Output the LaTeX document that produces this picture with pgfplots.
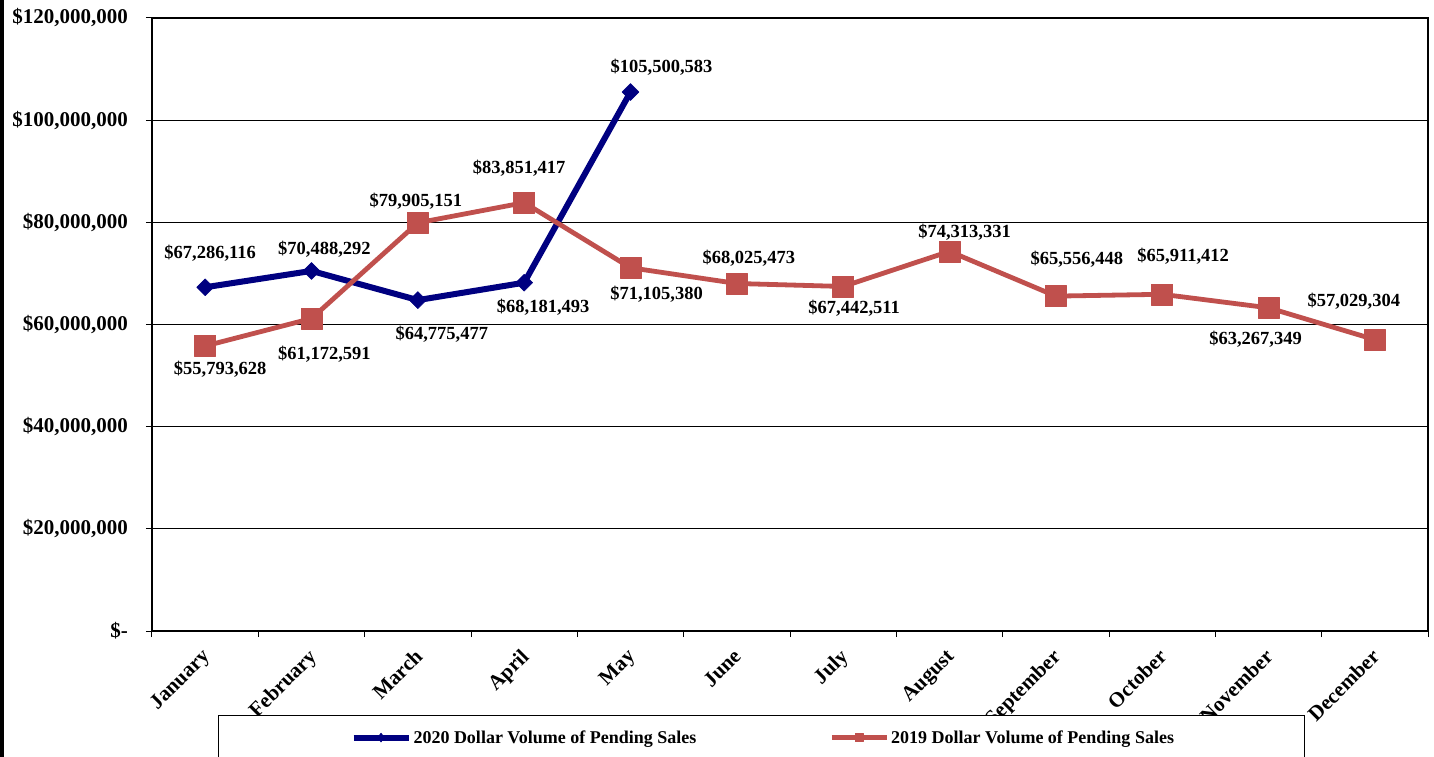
\documentclass[border=0pt]{standalone}
\usepackage{fontspec}
\setmainfont{Liberation Serif}
\usepackage{pgfplots}
\pgfplotsset{compat=1.18}
\usepackage{pgfplotstable}

\definecolor{navy20}{RGB}{0,0,128}
\definecolor{red19}{RGB}{192,80,77}

% x = month, y = dollar volume, dx/dy = label offset (pt)
\pgfplotstableread{
x y dx dy label
1 67286116 5 34 \$67,286,116
2 70488292 13 22 \$70,488,292
3 64775477 24 -34 \$64,775,477
4 68181493 19 -25 \$68,181,493
5 105500583 31 25 \$105,500,583
}\salesTwenty

\pgfplotstableread{
x y dx dy label
1 55793628 15 -23 \$55,793,628
2 61172591 13 -36 \$61,172,591
3 79905151 -2 22 \$79,905,151
4 83851417 -5 34 \$83,851,417
5 71105380 26 -26 \$71,105,380
6 68025473 12 25 \$68,025,473
7 67442511 11 -22 \$67,442,511
8 74313331 15 19 \$74,313,331
9 65556448 21 37 \$65,556,448
10 65911412 21 38 \$65,911,412
11 63267349 -13 -31 \$63,267,349
12 57029304 -21 38 \$57,029,304
}\salesNineteen

\newcommand{\tickfont}{\bfseries\fontsize{21}{24}\selectfont}
\newcommand{\labfont}{\bfseries\fontsize{18.5}{21}\selectfont}

\pgfplotsset{
    navylegend/.style={legend image code/.code={
        \path (0pt,0pt);
        \draw[##1, mark=diamond*, mark size=4.5pt, mark options={solid, fill=navy20, line width=0.5pt},
              mark repeat=2, mark phase=2]
            plot coordinates {(4pt,0pt) (31.5pt,0pt) (59pt,0pt)};
    }},
    redlegend/.style={legend image code/.code={
        \draw[##1, mark=square*, mark size=4pt, mark options={solid, fill=red19, line width=0.5pt},
              mark repeat=2, mark phase=2]
            plot coordinates {(0pt,0pt) (27.5pt,0pt) (55pt,0pt)};
    }},
    datalabels/.style={
        nodes near coords, point meta=explicit symbolic,
        visualization depends on={\thisrow{dx}\as\dx},
        visualization depends on={\thisrow{dy}\as\dy},
        nodes near coords style={anchor=center, xshift=\dx pt, yshift=\dy pt, font=\labfont, text=black},
    },
}

\begin{document}
\begin{tikzpicture}
\useasboundingbox (-152pt,-126pt) rectangle (1282pt,631pt);
\fill[black] (-152pt,-126pt) rectangle (-148pt,631pt);
\begin{axis}[
    at={(0pt,0pt)}, anchor=south west,
    scale only axis,
    width=1276pt, height=613pt,
    xmin=0.5, xmax=12.5,
    ymin=0, ymax=120000000,
    axis line style={black, line width=1.2pt},
    tick pos=left, tick align=outside,
    major tick length=0pt, minor tick length=6pt,
    minor tick style={black, line width=1pt},
    xtick={1,...,12},
    xticklabels={January,February,March,April,May,June,July,August,September,October,November,December},
    minor xtick={0.5,1.5,...,12.5},
    ytick={0,2e7,4e7,6e7,8e7,1e8,1.2e8},
    minor ytick={0,2e7,4e7,6e7,8e7,1e8,1.2e8},
    yticklabels={{\$-},{\$20,000,000},{\$40,000,000},{\$60,000,000},{\$80,000,000},{\$100,000,000},{\$120,000,000}},
    scaled y ticks=false,
    yticklabel style={font=\tickfont, anchor=east, inner sep=0pt, xshift=-24pt},
    xticklabel style={font=\tickfont, xshift=-4.5pt, yshift=-16.5pt, rotate=45, anchor=north east, inner sep=0pt},
    ymajorgrids,
    grid style={black, line width=0.9pt},
    legend columns=2,
    legend style={
        at={(0.05172,-0.13703)}, anchor=north west,
        draw=black, line width=1pt, fill=white,
        inner xsep=128pt, inner ysep=13pt,
        font=\bfseries\fontsize{18}{20}\selectfont,
        nodes={inner sep=2pt},
        /tikz/every odd column/.append style={column sep=0pt},
        /tikz/every even column/.append style={column sep=131pt},
    },
]
\addplot[navy20, line width=6pt, line join=round,
    mark=square*, mark size=6pt,
    mark options={rotate=45, solid, line width=0.5pt, fill=navy20},
    datalabels, navylegend,
] table[x=x, y=y, meta=label] {\salesTwenty};
\addlegendentry{2020 Dollar Volume of Pending Sales}

\addplot[red19, line width=4.8pt, line join=round,
    mark=square*, mark size=10.5pt,
    mark options={solid, line width=0.5pt, fill=red19},
    datalabels, redlegend,
] table[x=x, y=y, meta=label] {\salesNineteen};
\addlegendentry{2019 Dollar Volume of Pending Sales}
\end{axis}
\end{tikzpicture}
\end{document}
